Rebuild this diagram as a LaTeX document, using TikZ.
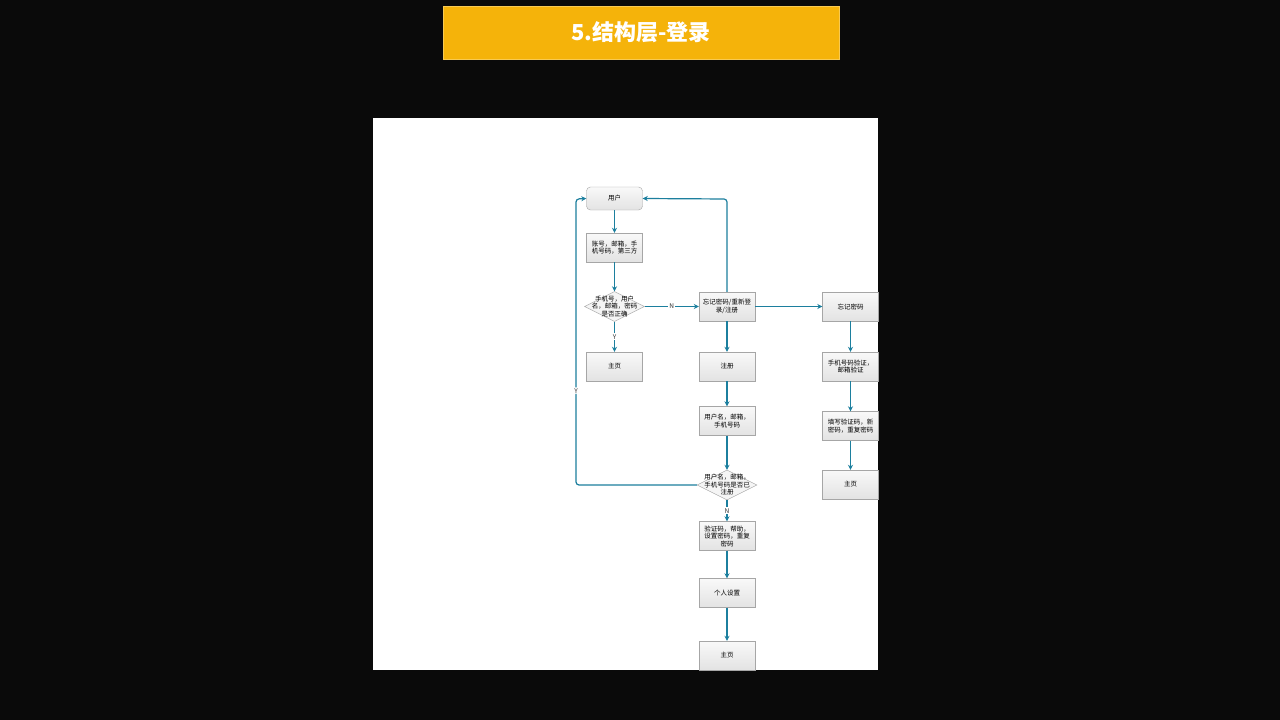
\documentclass[tikz,border=0pt]{standalone}
\usepackage{fontspec}
\setmainfont{Noto Sans CJK SC}
\usetikzlibrary{shapes.geometric,arrows.meta}
\definecolor{flowline}{HTML}{1C7F9E}
\definecolor{titlebar}{HTML}{F5B30A}
\tikzset{
  stepbox/.style={draw=gray!70, top color=gray!5, bottom color=gray!22, minimum width=56pt, minimum height=29pt, inner sep=1pt, align=center, font=\fontsize{6.5}{7.5}\selectfont},
  askbox/.style={diamond, draw=gray!70, fill=gray!8, minimum width=56pt, minimum height=30pt, inner sep=0pt, align=center, font=\fontsize{6.5}{7.5}\selectfont},
  flow/.style={-{Stealth[length=5pt,width=5pt]}, flowline, line width=1.2pt},
  tag/.style={font=\fontsize{6.5}{7.5}\selectfont, fill=white, text=black!80, inner sep=1pt}
}
\begin{document}
\begin{tikzpicture}[x=1pt,y=-1pt]
  % background
  \fill[black!96] (0,0) rectangle (1280,720);
  \useasboundingbox (0,0) rectangle (1280,720);
  \node[fill=titlebar, draw=titlebar!70!white, minimum width=396pt, minimum height=53pt, text=white, font=\fontsize{22}{24}\selectfont\bfseries] (title) at (641,32.5) {5.结构层-登录};
  \fill[white] (373,118) rectangle (878,670);

  % left column
  \node[stepbox, rounded corners=4pt, minimum height=23pt] (user) at (614.5,198.5) {用户};
  \node[stepbox] (acct) at (614.5,247.5) {账号，邮箱，手\\机号码，第三方};
  \node[askbox, minimum width=60pt] (check) at (614.5,306.5) {};
  \node[font=\fontsize{6.5}{7.5}\selectfont, align=center] (checktxt) at (check) {手机号，用户\\名，邮箱，密码\\是否正确};
  \node[stepbox] (home1) at (614.5,366.5) {主页};

  % middle column
  \node[stepbox] (retry) at (727,306.5) {忘记密码/重新登\\录/注册};
  \node[stepbox] (reg) at (727,366.5) {注册};
  \node[stepbox] (info) at (727,421) {用户名，邮箱，\\手机号码};
  \node[askbox, minimum width=60pt] (exist) at (727,485) {};
  \node[font=\fontsize{6.5}{7.5}\selectfont, align=center] (existtxt) at (exist) {用户名，邮箱，\\手机号码是否已\\注册};
  \node[stepbox] (code) at (727,536) {验证码，帮助，\\设置密码，重复\\密码};
  \node[stepbox] (prof) at (727,593) {个人设置};
  \node[stepbox] (home2) at (727,655.5) {主页};

  % right column
  \node[stepbox] (forget) at (850.5,306.5) {忘记密码};
  \node[stepbox] (verify) at (850.5,366.5) {手机号码验证，\\邮箱验证};
  \node[stepbox] (newpw) at (850.5,426) {填写验证码，新\\密码，重复密码};
  \node[stepbox] (home3) at (850.5,484.5) {主页};

  % connectors
  \draw[flow] (user) -- (acct);
  \draw[flow] (acct) -- (check);
  \draw[flow] (check) -- node[tag] {Y} (home1);
  \draw[flow] (check) -- node[tag] {N} (retry);
  \draw[flow, rounded corners=3pt] (retry.north) -- (727,199) -- (user.east);
  \draw[flow] (retry) -- (reg);
  \draw[flow] (reg) -- (info);
  \draw[flow] (info) -- (exist);
  \draw[flow] (exist) -- node[tag] {N} (code);
  \draw[flow] (code) -- (prof);
  \draw[flow] (prof) -- (home2);
  \draw[flow, rounded corners=3pt] (exist.west) -- (576,485) -- node[tag, pos=0.33] {Y} (576,199) -- (user.west);
  \draw[flow] (retry) -- (forget);
  \draw[flow] (forget) -- (verify);
  \draw[flow] (verify) -- (newpw);
  \draw[flow] (newpw) -- (home3);
\end{tikzpicture}
\end{document}
